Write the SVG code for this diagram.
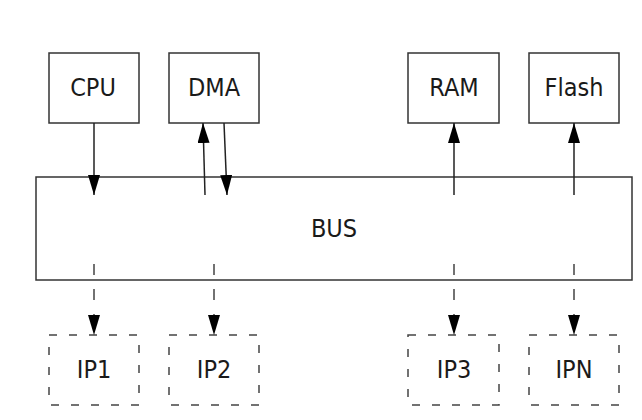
<svg xmlns="http://www.w3.org/2000/svg" width="642" height="420" viewBox="0 0 642 420">
<defs>
<style>
.box{fill:#fff;stroke:#333;stroke-width:1.5}
.dbox{fill:none;stroke:#444;stroke-width:1.5;stroke-dasharray:8 12}
.lbl{font-family:"DejaVu Sans Condensed","DejaVu Sans",sans-serif;font-stretch:condensed;font-size:25px;fill:#1a1a1a;text-anchor:middle}
.ln{stroke:#222;stroke-width:1.5;fill:none;marker-end:url(#ah)}
.dl{stroke:#444;stroke-width:1.5;fill:none;stroke-dasharray:11 14;marker-end:url(#ah)}
</style>
<marker id="ah" markerUnits="userSpaceOnUse" markerWidth="20" markerHeight="12" refX="20" refY="6" orient="auto">
<path d="M0,0 L20,6 L0,12 Z" fill="#000"/>
</marker>
</defs>
<rect width="642" height="420" fill="#fff"/>
<g id="bus"><rect class="box" x="36" y="177" width="596" height="103"/><text class="lbl" x="334" y="237">BUS</text></g>
<g id="cpu"><rect class="box" x="49" y="53" width="90" height="70"/><text class="lbl" x="93" y="96">CPU</text></g>
<g id="dma"><rect class="box" x="169" y="53" width="90" height="70"/><text class="lbl" x="214" y="96">DMA</text></g>
<g id="ram"><rect class="box" x="408" y="53" width="91" height="70"/><text class="lbl" x="454" y="96">RAM</text></g>
<g id="flash"><rect class="box" x="529" y="53" width="90" height="70"/><text class="lbl" x="574" y="96">Flash</text></g>
<g id="ip1"><rect class="dbox" x="49" y="335" width="90" height="70"/><text class="lbl" x="94" y="378">IP1</text></g>
<g id="ip2"><rect class="dbox" x="169" y="335" width="90" height="70"/><text class="lbl" x="214" y="378">IP2</text></g>
<g id="ip3"><rect class="dbox" x="408" y="335" width="91" height="70"/><text class="lbl" x="454" y="378">IP3</text></g>
<g id="ipn"><rect class="dbox" x="529" y="335" width="90" height="70"/><text class="lbl" x="574" y="378">IPN</text></g>
<g id="connectors">
<line class="ln" x1="94" y1="123" x2="94" y2="195"/>
<line class="ln" x1="205" y1="195" x2="203" y2="123"/>
<line class="ln" x1="224" y1="123" x2="227" y2="195"/>
<line class="ln" x1="454" y1="195" x2="454" y2="123"/>
<line class="ln" x1="574" y1="195" x2="574" y2="123"/>
<line class="dl" x1="94" y1="264" x2="94" y2="335"/>
<line class="dl" x1="214" y1="264" x2="214" y2="335"/>
<line class="dl" x1="454" y1="264" x2="454" y2="335"/>
<line class="dl" x1="574" y1="264" x2="574" y2="335"/>
</g>
</svg>
